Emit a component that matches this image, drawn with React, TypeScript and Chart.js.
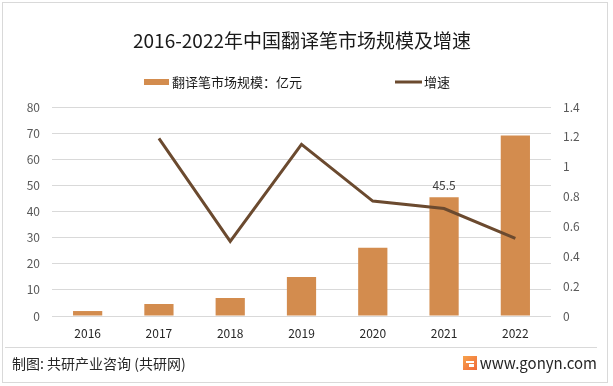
import React, { useEffect, useRef } from "react";
import { Chart, registerables } from "chart.js";

Chart.register(...registerables);

const TITLE = "2016-2022年中国翻译笔市场规模及增速";
const YEARS = ["2016", "2017", "2018", "2019", "2020", "2021", "2022"];
const MARKET_SIZE = [1.9, 4.6, 6.9, 14.9, 26.1, 45.5, 69.1];
const GROWTH = [null, 1.19, 0.5, 1.15, 0.77, 0.72, 0.52];
const LEFT_AXIS = { min: 0, max: 80, step: 10 };
const RIGHT_AXIS = { min: 0, max: 1.4, step: 0.2 };
const LABELED_YEARS = ["2021"];
const SOURCE_TEXT = "制图: 共研产业咨询 (共研网)";
const SITE_TEXT = "www.gonyn.com";

const BAR_COLOR = "#D38C4E";
const LINE_COLOR = "#6B4A2F";
const FONT = "'Noto Sans CJK SC', 'Noto Sans', sans-serif";

const decorPlugin = {
  id: "decor",
  beforeDraw(chart: any) {
    const { ctx, width, height } = chart;
    ctx.save();
    ctx.fillStyle = "#ffffff";
    ctx.fillRect(0, 0, width, height);
    ctx.strokeStyle = "#d9d9d9";
    ctx.lineWidth = 1;
    ctx.strokeRect(2.5, 2.5, 605, 380);
    ctx.restore();
  },
  afterDraw(chart: any) {
    const { ctx } = chart;
    ctx.save();
    // title
    ctx.fillStyle = "#1a1a1a";
    ctx.font = `19px ${FONT}`;
    ctx.textAlign = "center";
    ctx.textBaseline = "middle";
    ctx.fillText(TITLE, 302, 41);

    // legend
    const ds = chart.data.datasets;
    ctx.font = `13px ${FONT}`;
    ctx.textAlign = "left";
    const t1 = ds[0].label;
    const t2 = ds[1].label;
    const w1 = ctx.measureText(t1).width;
    const w2 = ctx.measureText(t2).width;
    const total = 25 + 3 + w1 + 93 + 27 + 2 + w2;
    let x = 297 - total / 2;
    const ly = 82;
    ctx.fillStyle = ds[0].backgroundColor;
    ctx.fillRect(x, ly - 3, 25, 6);
    x += 28;
    ctx.fillStyle = "#1a1a1a";
    ctx.fillText(t1, x, ly);
    x += w1 + 93;
    ctx.strokeStyle = ds[1].borderColor;
    ctx.lineWidth = 3;
    ctx.beginPath();
    ctx.moveTo(x, ly);
    ctx.lineTo(x + 27, ly);
    ctx.stroke();
    x += 29;
    ctx.fillStyle = "#1a1a1a";
    ctx.fillText(t2, x, ly);

    // data labels
    const meta = chart.getDatasetMeta(0);
    ctx.font = `12px ${FONT}`;
    ctx.textAlign = "center";
    ctx.textBaseline = "bottom";
    ctx.fillStyle = "#404040";
    chart.data.labels.forEach((lab: string, i: number) => {
      if (!LABELED_YEARS.includes(lab)) return;
      const el = meta.data[i];
      ctx.fillText(String(ds[0].data[i]), el.x, el.y - 6);
    });

    // footer
    ctx.strokeStyle = "#d9d9d9";
    ctx.lineWidth = 1;
    ctx.beginPath();
    ctx.moveTo(5, 347.5);
    ctx.lineTo(597, 347.5);
    ctx.stroke();

    ctx.fillStyle = "#262626";
    ctx.font = `14px ${FONT}`;
    ctx.textAlign = "left";
    ctx.textBaseline = "middle";
    ctx.fillText(SOURCE_TEXT, 12, 364);

    ctx.font = `15px ${FONT}`;
    ctx.textAlign = "right";
    ctx.fillText(SITE_TEXT, 597, 363);

    // logo
    const grad = ctx.createLinearGradient(463, 356, 477, 370);
    grad.addColorStop(0, "#F7A24B");
    grad.addColorStop(1, "#F06A3A");
    ctx.fillStyle = grad;
    ctx.fillRect(463, 356, 14, 14);
    ctx.fillStyle = "#ffffff";
    ctx.fillRect(466, 361, 8, 2);
    ctx.fillRect(469, 364, 5, 3);
    ctx.restore();
  },
};

export default function App() {
  const ref = useRef<HTMLCanvasElement>(null);
  useEffect(() => {
    document.body.style.margin = "0";
    const canvas = ref.current!;
    const chart = new Chart(canvas, {
      type: "bar",
      data: {
        labels: YEARS,
        datasets: [
          {
            type: "bar",
            label: "翻译笔市场规模：亿元",
            data: MARKET_SIZE,
            backgroundColor: BAR_COLOR,
            yAxisID: "y",
            barPercentage: 0.41,
            categoryPercentage: 1,
            order: 2,
          },
          {
            type: "line",
            label: "增速",
            data: GROWTH as any,
            borderColor: LINE_COLOR,
            backgroundColor: LINE_COLOR,
            borderWidth: 3,
            pointRadius: 0,
            tension: 0,
            yAxisID: "y1",
            order: 1,
          } as any,
        ],
      },
      options: {
        responsive: false,
        animation: false,
        devicePixelRatio: 1,
        layout: { padding: { top: 107, bottom: 0, left: 0, right: 0 } },
        plugins: {
          legend: { display: false },
          title: { display: false },
          tooltip: { enabled: false },
        },
        scales: {
          x: {
            grid: { display: false, drawTicks: false },
            border: { display: false },
            ticks: {
              color: "#262626",
              font: { family: FONT, size: 12 },
              padding: 10,
            },
            afterFit: (s: any) => {
              s.height = 70;
            },
          },
          y: {
            position: "left",
            min: LEFT_AXIS.min,
            max: LEFT_AXIS.max,
            ticks: {
              stepSize: LEFT_AXIS.step,
              color: "#595959",
              font: { family: FONT, size: 12 },
              padding: 12,
            },
            grid: { color: "#d9d9d9", drawTicks: false },
            border: { display: false },
            afterFit: (s: any) => {
              s.width = 52;
            },
          },
          y1: {
            position: "right",
            min: RIGHT_AXIS.min,
            max: RIGHT_AXIS.max,
            ticks: {
              stepSize: RIGHT_AXIS.step,
              color: "#595959",
              font: { family: FONT, size: 12 },
              padding: 12,
              callback: (v: any) => String(Number(Number(v).toFixed(1))),
            },
            grid: { display: false, drawTicks: false },
            border: { display: false },
            afterFit: (s: any) => {
              s.width = 62;
            },
          },
        },
      },
      plugins: [decorPlugin],
    });
    return () => chart.destroy();
  }, []);
  return <canvas ref={ref} width={613} height={386} style={{ display: "block" }} />;
}
